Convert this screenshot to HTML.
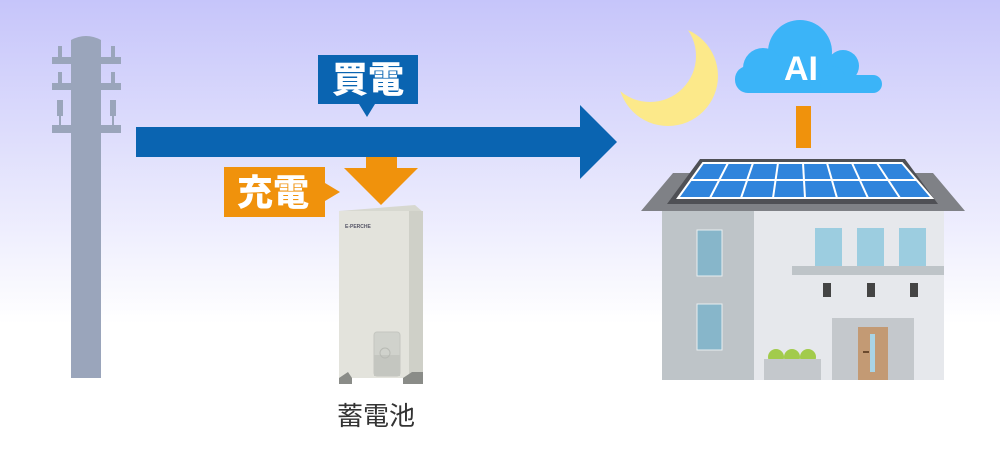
<!DOCTYPE html>
<html><head><meta charset="utf-8"><style>
html,body{margin:0;padding:0;width:1000px;height:450px;overflow:hidden}
svg{display:block}
</style></head><body>
<svg width="1000" height="450" viewBox="0 0 1000 450" xmlns="http://www.w3.org/2000/svg">
<defs>
<linearGradient id="bg" x1="0" y1="0" x2="0" y2="1">
<stop offset="0" stop-color="#c6c5fa"/>
<stop offset="0.72" stop-color="#ffffff"/>
<stop offset="1" stop-color="#ffffff"/>
</linearGradient>
<mask id="moonm">
<rect width="1000" height="450" fill="#fff"/>
<circle cx="650" cy="56" r="46" fill="#000"/>
</mask>
</defs>
<rect width="1000" height="450" fill="url(#bg)"/>
<!-- pole -->
<g fill="#9aa5bb">
<path d="M71 40 Q86 32 101 40 L101 378 L71 378 Z"/>
<rect x="52" y="57" width="69" height="7"/>
<rect x="52" y="83" width="69" height="7"/>
<rect x="52" y="125" width="69" height="8"/>
<rect x="58" y="46" width="4" height="11"/><rect x="111" y="46" width="4" height="11"/>
<rect x="58" y="72" width="4" height="11"/><rect x="111" y="72" width="4" height="11"/>
<rect x="57" y="100" width="6" height="16"/><rect x="110" y="100" width="6" height="16"/>
<rect x="59" y="116" width="2" height="9"/><rect x="112" y="116" width="2" height="9"/>
</g>
<!-- blue arrow -->
<path d="M136 127 L580 127 L580 105 L617 142 L580 179 L580 157 L136 157 Z" fill="#0a64b1"/>
<path d="M318 55 L418 55 L418 104 L375 104 L367 117 L359 104 L318 104 Z" fill="#0a64b1"/>
<text x="368" y="92" font-family="'Liberation Sans','Noto Sans CJK JP',sans-serif" font-weight="900" font-size="36" fill="#fff" text-anchor="middle">買電</text>
<!-- orange arrow -->
<path d="M366 157 L397 157 L397 168 L418 168 L381 205 L344 168 L366 168 Z" fill="#f0920c"/>
<path d="M224 167 L325 167 L325 183 L340 192 L325 201 L325 217 L224 217 Z" fill="#f0920c"/>
<text x="273" y="205" font-family="'Liberation Sans','Noto Sans CJK JP',sans-serif" font-weight="900" font-size="36" fill="#fff" text-anchor="middle">充電</text>
<!-- battery -->
<path d="M339 211 L415 205 L423 212 L423 378 L339 378 Z" fill="#d7d8d0"/>
<rect x="339" y="211" width="70" height="167" fill="#e3e3dc"/>
<rect x="409" y="211" width="14" height="167" fill="#cfd0c8"/>
<text x="345" y="228" font-family="'Liberation Sans',sans-serif" font-size="5" font-weight="bold" fill="#556">E-PERCHE</text>
<rect x="374" y="332" width="26" height="44" rx="3" fill="#d0d2cc" stroke="#c4c6c0"/>
<rect x="374" y="355" width="26" height="21" fill="#c4c6c0"/>
<circle cx="385" cy="353" r="5" fill="none" stroke="#b8bab4"/>
<path d="M339 378 L348 372 L352 378 L352 384 L339 384 Z" fill="#8a8c88"/>
<path d="M403 384 L403 378 L412 372 L423 372 L423 384 Z" fill="#8a8c88"/>
<text x="376" y="425" font-family="'Liberation Sans','Noto Sans CJK JP',sans-serif" font-size="26" fill="#333" text-anchor="middle">蓄電池</text>
<!-- moon -->
<circle cx="668" cy="76" r="50" fill="#fce98a" mask="url(#moonm)"/>
<!-- cloud -->
<g fill="#3bb4f8">
<circle cx="800" cy="52" r="32"/>
<circle cx="763" cy="68" r="20"/>
<circle cx="843" cy="66" r="16"/>
<rect x="735" y="66" width="110" height="27" rx="13"/>
<rect x="820" y="75" width="62" height="18" rx="9"/>
</g>
<text x="801" y="80" font-family="'Liberation Sans',sans-serif" font-weight="bold" font-size="34" fill="#fff" text-anchor="middle">AI</text>
<rect x="796" y="106" width="15" height="42" fill="#f0920c"/>
<!-- house -->
<path d="M641 211 L673 173 L933 173 L965 211 Z" fill="#7f8186"/>
<path d="M667 204 L700 159 L905 159 L938 204 Z" fill="#4f5055"/>
<path d="M678 198 L703 163 L902 163 L932 198 Z" fill="#2f84dc" stroke="#fff" stroke-width="2"/>
<g stroke="#fff" stroke-width="2">
<line x1="690" y1="180" x2="917" y2="180"/>
<line x1="728" y1="163" x2="710" y2="198"/>
<line x1="753" y1="163" x2="741" y2="198"/>
<line x1="778" y1="163" x2="773" y2="198"/>
<line x1="803" y1="163" x2="805" y2="198"/>
<line x1="827" y1="163" x2="837" y2="198"/>
<line x1="852" y1="163" x2="868" y2="198"/>
<line x1="877" y1="163" x2="900" y2="198"/>
</g>
<rect x="662" y="211" width="92" height="169" fill="#bec4c8"/>
<rect x="754" y="211" width="190" height="169" fill="#e6e8ec"/>
<rect x="697" y="230" width="25" height="46" fill="#87b6ca" stroke="#e8eef0" stroke-width="1"/>
<rect x="697" y="304" width="25" height="46" fill="#87b6ca" stroke="#e8eef0" stroke-width="1"/>
<rect x="815" y="228" width="27" height="38" fill="#9ccde0"/>
<rect x="857" y="228" width="27" height="38" fill="#9ccde0"/>
<rect x="899" y="228" width="27" height="38" fill="#9ccde0"/>
<rect x="792" y="266" width="152" height="9" fill="#bec4c8"/>
<rect x="823" y="283" width="8" height="14" fill="#444"/>
<rect x="867" y="283" width="8" height="14" fill="#444"/>
<rect x="910" y="283" width="8" height="14" fill="#444"/>
<rect x="832" y="318" width="82" height="62" fill="#c4c8cc"/>
<rect x="858" y="327" width="30" height="53" fill="#c39a74"/>
<rect x="870" y="334" width="5" height="38" fill="#a9d4e6"/>
<rect x="863" y="351" width="6" height="2" fill="#6b4a2e"/>
<g fill="#a2cb4c"><circle cx="776" cy="357" r="8"/><circle cx="792" cy="357" r="8"/><circle cx="808" cy="357" r="8"/></g>
<rect x="764" y="359" width="57" height="21" fill="#c4c8cc"/>
</svg>
</body></html>
